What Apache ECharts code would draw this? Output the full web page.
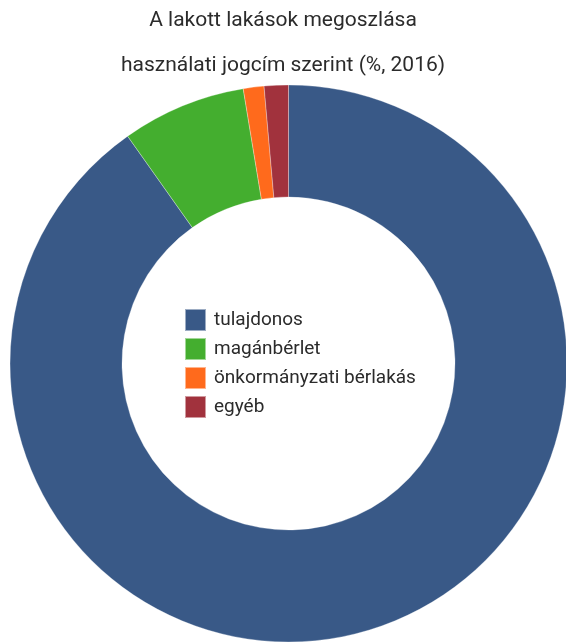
<!DOCTYPE html>
<html>
<head>
<meta charset="utf-8">
<script src="https://cdn.jsdelivr.net/npm/echarts@6/dist/echarts.min.js"></script>
<style>
  html, body { margin: 0; padding: 0; background: #ffffff; }
  #chart { width: 566px; height: 643px; }
</style>
</head>
<body>
<div id="chart"></div>
<script>
// Lakott lakások használati jogcím szerint, 2016 (%)
const categories = ['tulajdonos', 'magánbérlet', 'önkormányzati bérlakás', 'egyéb'];
const shares = [90.2, 7.2, 1.2, 1.4];
const colors = ['#395987', '#44AE2F', '#FF6A1C', '#A1323D'];

const chart = echarts.init(document.getElementById('chart'), null, { renderer: 'canvas' });

chart.setOption({
  animation: false,
  backgroundColor: '#ffffff',
  color: colors,
  title: {
    text: 'A lakott lakások megoszlása\nhasználati jogcím szerint (%, 2016)',
    left: 'center',
    top: -2,
    padding: 0,
    textStyle: {
      fontFamily: 'Roboto',
      fontWeight: 'normal',
      fontSize: 21,
      color: '#2b2b2b',
      lineHeight: 45
    }
  },
  legend: {
    orient: 'vertical',
    left: 184,
    top: 308,
    padding: 0,
    icon: 'rect',
    itemWidth: 21,
    itemHeight: 22,
    itemGap: 5,
    selectedMode: false,
    data: categories,
    textStyle: {
      fontFamily: 'Roboto',
      fontSize: 19,
      color: '#2b2b2b',
      padding: [0, 0, 0, 3]
    }
  },
  series: [{
    type: 'pie',
    center: [288.5, 363.5],
    radius: [166.5, 278.5],
    startAngle: 90,
    clockwise: true,
    silent: true,
    label: { show: false },
    labelLine: { show: false },
    itemStyle: { borderColor: 'rgba(255,255,255,0.5)', borderWidth: 0.6 },
    data: categories.map((name, i) => ({ name: name, value: shares[i] }))
  }]
});
</script>
</body>
</html>
